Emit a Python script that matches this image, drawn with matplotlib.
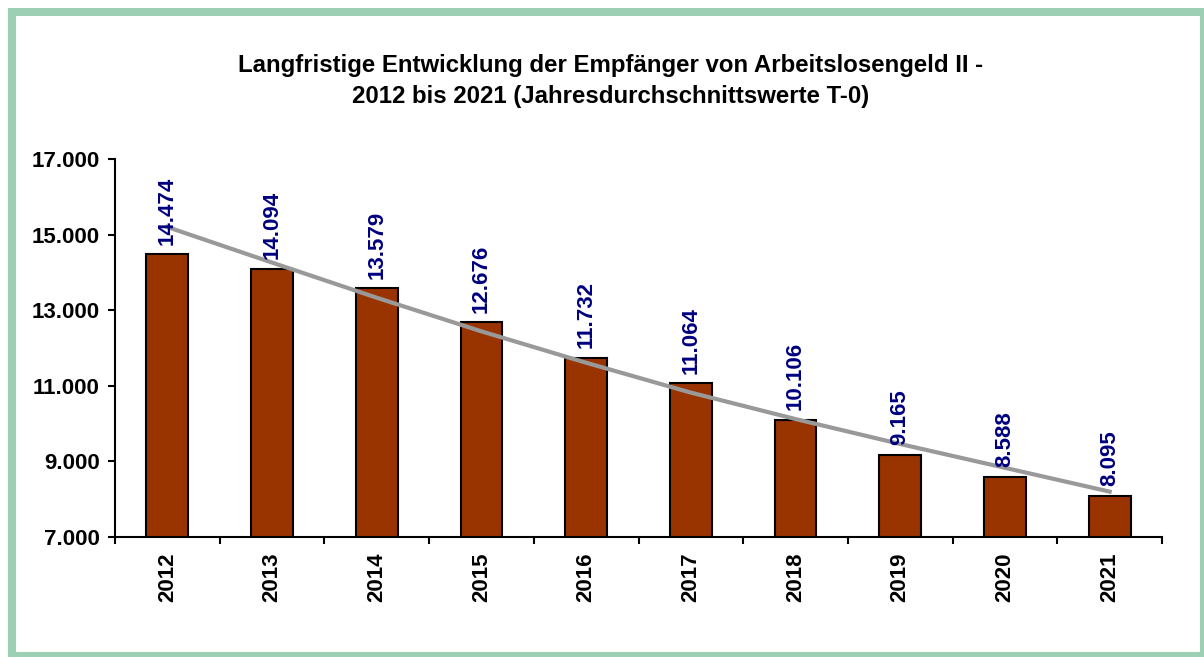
import matplotlib.pyplot as plt
from matplotlib.patches import Rectangle
from matplotlib.ticker import FixedLocator

plt.rcParams['font.family'] = ['Liberation Sans', 'DejaVu Sans']

# Daten
years = ['2012', '2013', '2014', '2015', '2016', '2017', '2018', '2019', '2020', '2021']
values = [14474, 14094, 13579, 12676, 11732, 11064, 10106, 9165, 8588, 8095]
# Trendlinie
trend = [15200, 14260, 13330, 12440, 11610, 10820, 10120, 9460, 8830, 8200]
yticks = [7000, 9000, 11000, 13000, 15000, 17000]

fig = plt.figure(figsize=(12.04, 6.57), dpi=100)
ax = fig.add_axes([115/1204, 1 - 537/657, (1162 - 115)/1204, (537 - 159)/657])

x = list(range(len(years)))
ax.bar(x, values, width=0.4, color='#993300', edgecolor='black', linewidth=1.5, zorder=2)
ax.plot(x, trend, color='#999999', linewidth=3, zorder=3)

for xi, v in zip(x, values):
    ax.annotate(f'{v:,}'.replace(',', '.'), (xi, v), xytext=(0, 7), textcoords='offset points',
                rotation=90, ha='center', va='bottom', color='#000080',
                fontsize=16, fontweight='bold', zorder=4)

ax.set_xlim(-0.5, 9.5)
ax.set_ylim(7000, 17000)
ax.set_yticks(yticks)
ax.set_yticklabels([f'{t:,}'.replace(',', '.') for t in yticks], fontsize=16, fontweight='bold')
ax.set_xticks(x)
ax.set_xticklabels(years, rotation=90, fontsize=16, fontweight='bold')
ax.xaxis.set_minor_locator(FixedLocator([i - 0.5 for i in range(11)]))
ax.tick_params(axis='x', which='major', length=0, pad=11)
ax.tick_params(axis='x', which='minor', length=5, width=1.5, direction='out')
ax.tick_params(axis='y', length=5, width=1.5, direction='out', pad=6)

for s in ['top', 'right']:
    ax.spines[s].set_visible(False)
for s in ['left', 'bottom']:
    ax.spines[s].set_linewidth(1.5)

fig.text(0.507, 1 - 81/657,
         'Langfristige Entwicklung der Empfänger von Arbeitslosengeld II -\n2012 bis 2021 (Jahresdurchschnittswerte T-0)',
         ha='center', va='center', fontsize=17.3, fontweight='bold', linespacing=1.45)

# gruener Rahmen
frame = Rectangle((12/1204, 1/657), (1204 - 12)/1204, (656 - 12)/657, transform=fig.transFigure,
                  fill=False, edgecolor='#9CCFB4', linewidth=5.8, clip_on=False)
fig.patches.append(frame)

fig.savefig('out.png', dpi=100)
